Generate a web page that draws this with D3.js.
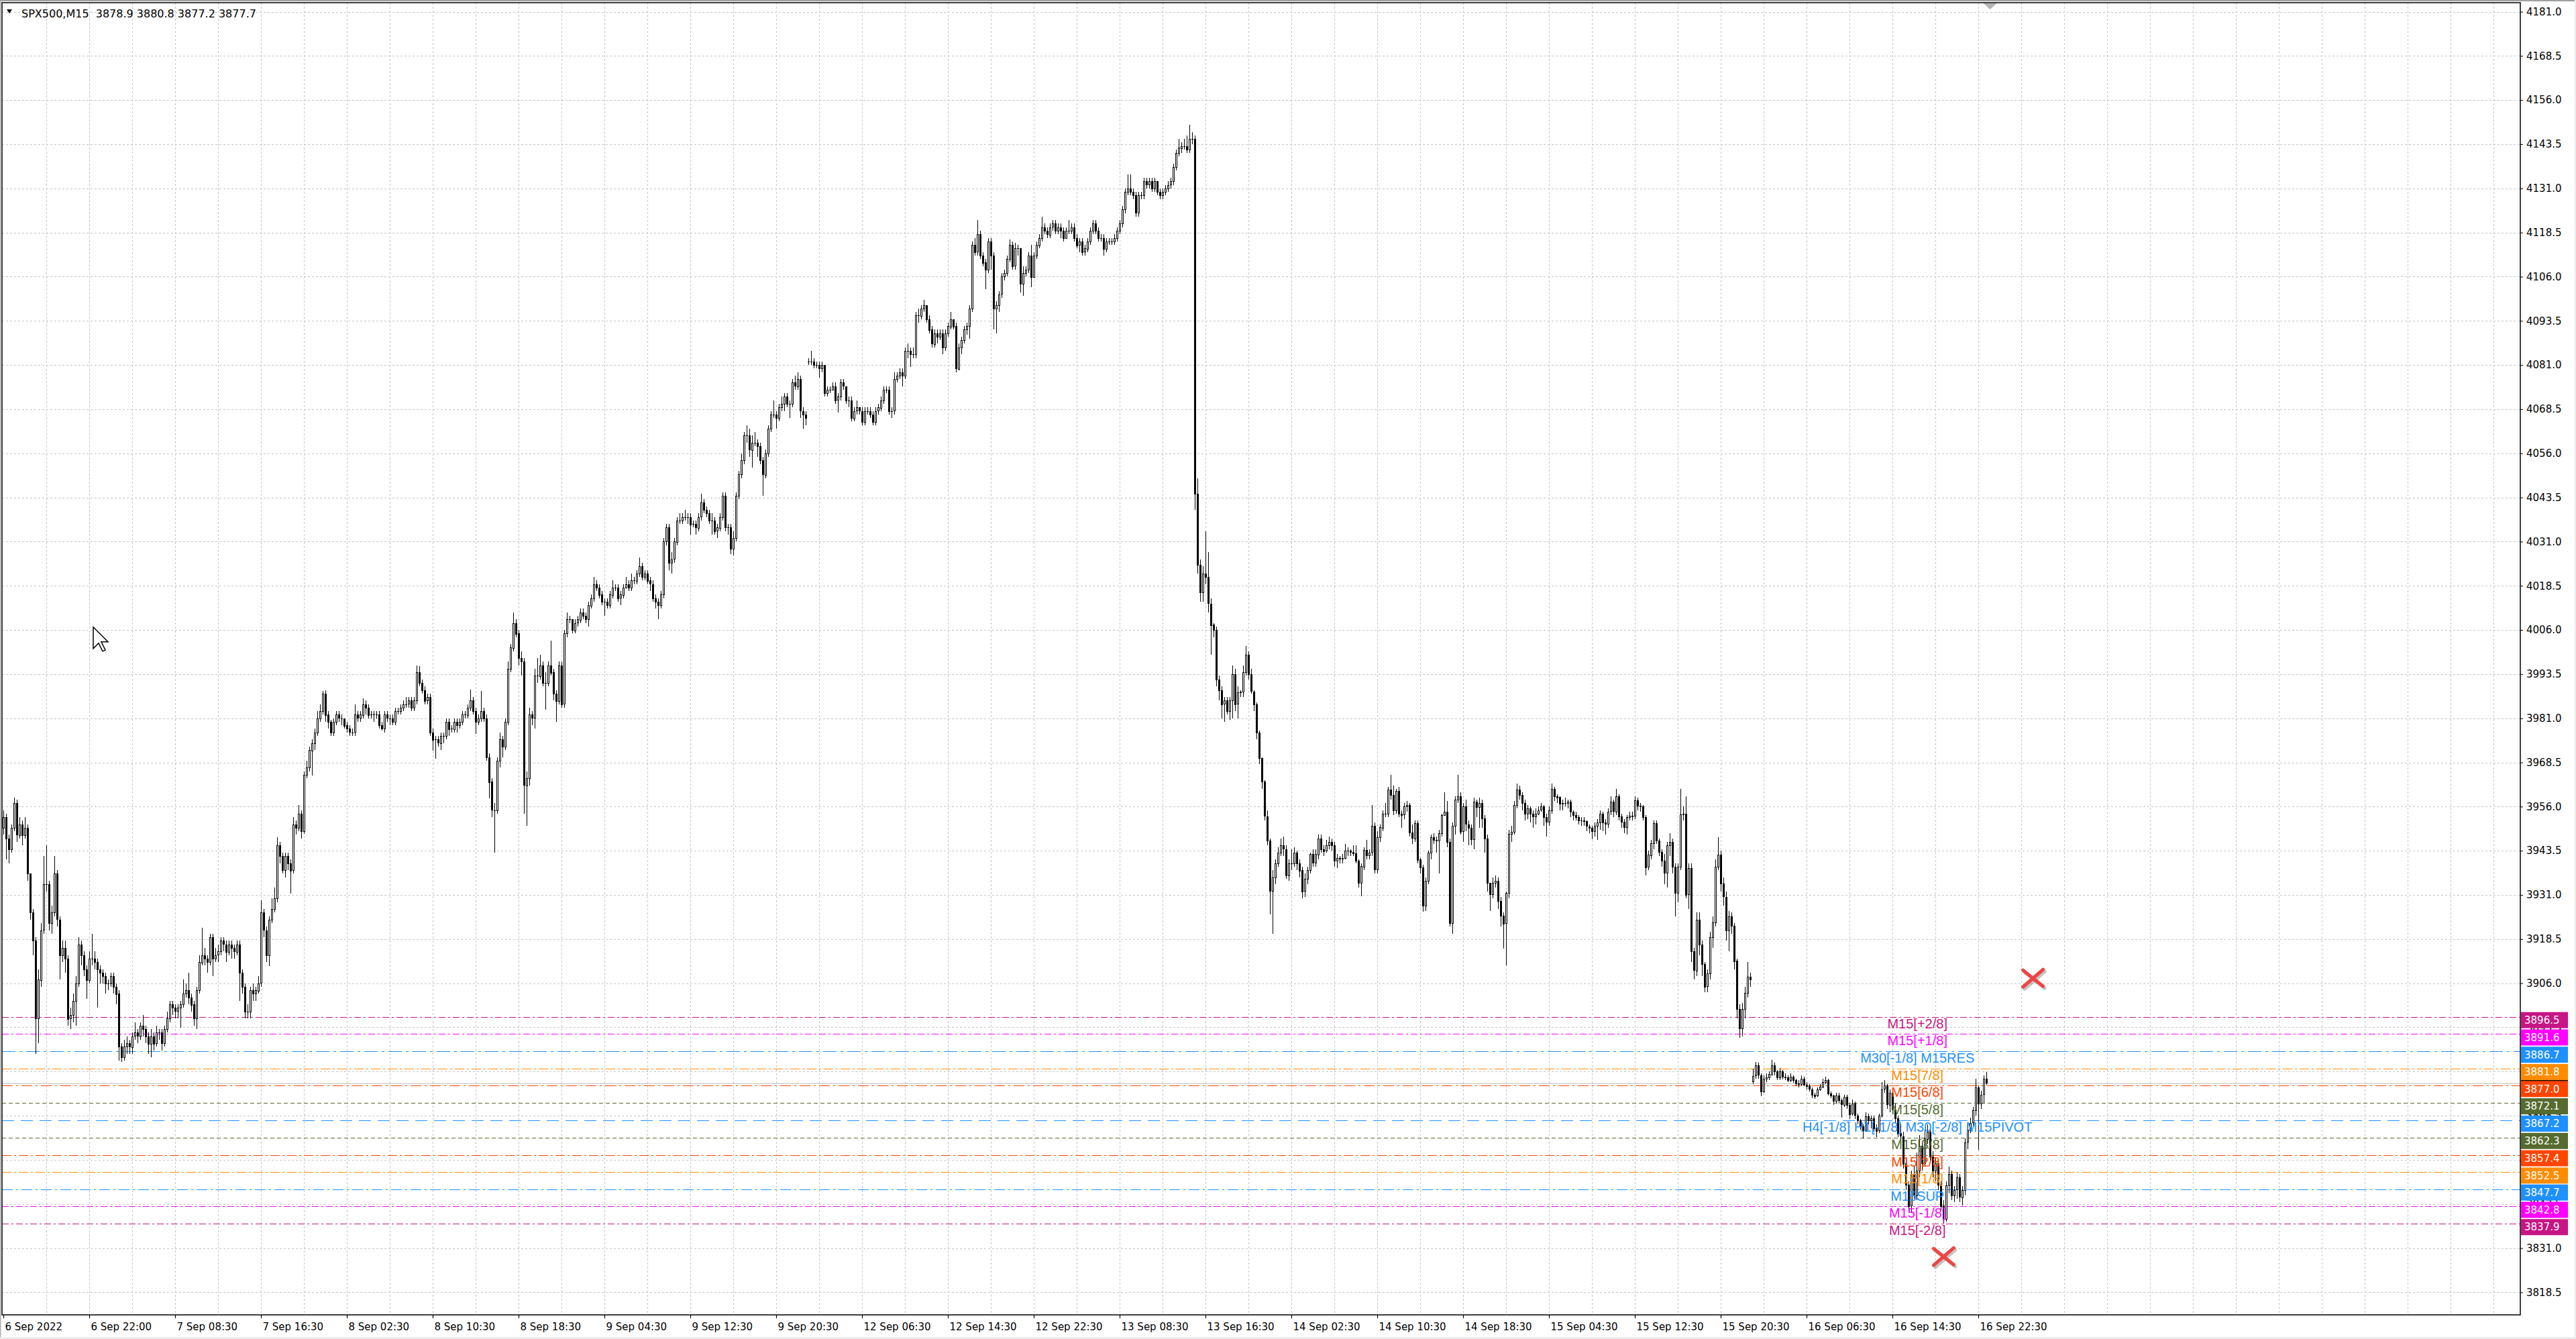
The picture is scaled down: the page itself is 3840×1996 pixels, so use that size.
<!DOCTYPE html>
<html>
<head>
<meta charset="utf-8">
<script src="https://cdn.jsdelivr.net/npm/d3@7"></script>
<style>
  body { margin: 0; background: #fff; }
  svg { display: block; }
</style>
</head>
<body>
<svg id="chart" width="3840" height="1996"></svg>
<script>
// SPX500 M15 candles, 6 Sep 2022 .. 16 Sep 2022
var closes = [
  3953,3947,3944,3950,3957,3948,3951,3948,3950,3937,
  3926,3918,3896,3907,3921,3934,3934,3923,3926,3937,
  3924,3914,3916,3913,3896,3897,3901,3906,3917,3914,
  3910,3907,3913,3913,3912,3910,3909,3908,3906,3906,
  3908,3905,3903,3888,3885,3888,3889,3888,3891,3892,
  3891,3894,3893,3891,3889,3891,3889,3892,3892,3889,
  3893,3896,3900,3899,3898,3899,3900,3903,3904,3902,
  3900,3896,3904,3912,3914,3913,3912,3919,3913,3914,
  3915,3918,3917,3915,3917,3916,3915,3917,3909,3905,
  3898,3898,3904,3903,3904,3906,3926,3921,3914,3924,
  3927,3930,3945,3942,3938,3942,3940,3938,3951,3950,
  3954,3949,3965,3967,3972,3974,3977,3981,3983,3988,
  3982,3980,3977,3980,3982,3981,3981,3979,3978,3977,
  3977,3982,3981,3982,3985,3984,3982,3982,3982,3982,
  3979,3978,3982,3981,3981,3980,3983,3983,3984,3985,
  3985,3986,3984,3986,3994,3991,3989,3986,3987,3977,
  3975,3975,3974,3976,3976,3980,3978,3978,3980,3979,
  3980,3982,3982,3984,3986,3983,3980,3981,3983,3981,
  3970,3963,3955,3955,3969,3975,3973,3980,3995,4001,
  4008,4005,3998,3997,3962,3964,3982,3981,3993,3993,
  3996,3991,3991,3996,3994,3988,3986,3996,3985,4005,
  4009,4009,4006,4008,4009,4011,4010,4009,4013,4015,
  4019,4018,4016,4014,4014,4013,4016,4018,4018,4015,
  4016,4018,4019,4018,4020,4020,4022,4024,4021,4022,
  4020,4019,4015,4014,4013,4016,4031,4035,4025,4026,
  4031,4037,4037,4038,4038,4038,4036,4036,4035,4038,
  4042,4040,4039,4037,4037,4034,4035,4038,4044,4035,
  4035,4029,4032,4044,4050,4054,4061,4061,4057,4059,
  4059,4058,4054,4050,4056,4063,4067,4067,4066,4069,
  4070,4072,4070,4070,4076,4075,4077,4068,4067,4066,
  4082,4082,4081,4081,4080,4081,4073,4074,4074,4075,
  4071,4072,4076,4075,4071,4071,4066,4068,4069,4068,
  4065,4068,4068,4067,4065,4068,4069,4071,4074,4074,
  4068,4068,4077,4078,4079,4078,4085,4085,4084,4084,
  4095,4095,4097,4098,4094,4091,4087,4090,4089,4090,
  4086,4090,4092,4094,4092,4080,4086,4088,4091,4092,
  4097,4115,4113,4118,4112,4110,4108,4116,4112,4097,
  4098,4101,4106,4107,4111,4115,4109,4114,4114,4104,
  4107,4108,4112,4106,4112,4115,4117,4120,4119,4118,
  4120,4121,4119,4120,4119,4117,4119,4119,4120,4117,
  4115,4116,4113,4114,4116,4119,4121,4119,4117,4117,
  4114,4116,4116,4116,4117,4119,4121,4125,4130,4131,
  4130,4129,4124,4129,4129,4133,4132,4133,4131,4133,
  4130,4129,4130,4131,4132,4133,4137,4141,4142.5,4143,
  4143,4142,4145,4145,4044.5,4024.4,4016.7,4022,4021,4013.5,
  4007.5,4006,3992,3989,3985,3986,3983,3986,3993.5,3985,
  3988.3,3988.5,3994,3999,3993.4,3988.6,3984.9,3977,3969.7,3963,
  3953.3,3946.4,3932.2,3936,3940,3943,3945,3944,3936.6,3940,
  3940,3943,3940,3938,3932,3935.5,3938,3942.5,3940,3942.5,
  3947,3944,3943.5,3945,3946,3945,3940.7,3941.5,3941.3,3941.5,
  3943.5,3943.5,3943.2,3942.8,3940.7,3934.4,3939.1,3943.8,3942.3,3943,
  3950.5,3938.2,3947.3,3950.1,3954,3954,3960.9,3959.3,3955,3960.5,
  3954,3953.7,3956,3956.4,3948.6,3947,3951.4,3941,3938.8,3928,
  3935,3942.9,3947.3,3946.5,3946.4,3948.5,3953.6,3954.6,3946,3923,
  3950.5,3958,3959,3949,3956,3951,3950,3946.7,3957.4,3955.8,
  3957,3952.7,3947,3934.4,3931.2,3934.4,3935,3929.3,3925.2,3923,
  3931.5,3948.3,3948.9,3956.5,3960.9,3959.3,3957,3954,3955.5,3954,
  3953.3,3954,3955,3956,3953,3951.7,3955,3961,3959,3958.7,
  3956.8,3957,3957,3957.3,3954.5,3953.6,3953,3952,3952,3951.8,
  3950.4,3950,3949,3950.5,3951.5,3954,3951.6,3951.2,3954.6,3957.3,
  3954.6,3959,3953.3,3951.7,3950.1,3953,3953.4,3953.3,3957.7,3956.2,
  3956.1,3953,3938.8,3942.3,3945.7,3951.4,3946.4,3943.2,3940.7,3937.2,
  3945,3946,3939,3931.6,3939,3953.8,3954,3931,3938.5,3915,
  3909.6,3924,3916.9,3911.4,3905,3908.7,3919,3923.2,3939,3942.4,
  3934.2,3930.5,3921,3925,3922.3,3912.3,3898.7,3893.2,3898.7,3903.2,
  3907.8,3907,3879.8,3882.7,3880,3875.4,3879,3879.3,3880.2,3882.8,
  3881,3879.2,3881,3879.5,3879.4,3878.6,3879.5,3878.6,3877.6,3877.5,
  3879,3877.3,3877,3876,3874.5,3874.2,3875.9,3876.7,3878,3878.6,
  3874.8,3874.2,3872.6,3874.2,3872.8,3871.6,3873.8,3871.6,3869,3871.9,
  3868.6,3867.2,3865.5,3864.4,3868.4,3867.2,3867.8,3865,3864.3,3868.5,
  3876,3877,3871.6,3875,3870.3,3867.8,3863.5,3862.7,3855,3849,
  3843,3852,3846,3853,3860,3855,3862,3864,3857,3853,
  3855,3849,3843,3839.3,3848.8,3852,3846,3847.5,3851,3845.5,
  3847.5,3861,3864.5,3866.5,3870,3876.5,3872,3874.5,3878.9,3877.7
];

var highs = [
  3955,3954,3948,3951,3958.5,3958,3953,3952,3953,3951,
  3937,3927,3919,3910,3923,3942,3945,3935,3928,3942,
  3938,3925,3918,3918,3914,3899,3903,3908,3919,3918,
  3915,3911,3915,3920,3915,3913,3911,3910,3909,3907,
  3909,3909,3906,3904,3889,3890,3891,3890,3892,3895,
  3893,3895,3897,3894,3892,3893,3892,3894,3893,3893,
  3894,3898,3901,3901,3900,3900,3901,3907,3906,3909,
  3903,3901,3905,3914,3921.7,3916,3914,3920,3920,3916,
  3917,3919,3919,3918,3918,3918,3917,3918,3918,3910,
  3906,3900,3905,3906,3905,3908,3929.5,3927,3922,3925,
  3930,3933,3947.4,3946,3943,3943,3943,3941,3953,3952,
  3956.5,3955,3966,3969,3973,3975,3978,3983,3985,3988.8,
  3989,3983,3980.5,3981,3983,3983,3982,3981,3980,3979,
  3978,3985,3983,3983,3986.6,3986,3985,3983,3983,3983,
  3983,3980,3983,3983,3982,3982,3984,3984,3985,3986,
  3987,3987,3987,3987,3996,3995.7,3992,3990,3988,3988,
  3978,3976,3976,3977,3977,3981,3981,3979,3981,3981,
  3981,3983,3983,3985,3989.2,3987,3984,3982,3988.8,3984,
  3982,3971,3964,3957,3970,3977,3976,3981,3997,4002,
  4011,4009,4006,4000,3998,3966,3984,3983,3995,3998,
  3999,3997,3994,3997,4003,3995,3989,3997,3997,4006,
  4011,4010,4009,4009,4010,4012,4012,4011,4014,4016,
  4021,4020,4019,4017,4015,4015,4017,4020,4019,4019,
  4017,4019,4021,4020,4022,4021,4023,4026.5,4025,4023,
  4023,4021,4020,4016,4015,4017,4032,4036,4036,4028,
  4032,4038,4039,4039,4040,4039,4039,4037,4037,4039,
  4044.5,4043,4041,4040,4039,4038,4036,4039,4045,4045,
  4036,4036,4034,4045,4051,4056,4062,4064,4063,4061,
  4062,4060,4059,4055,4057,4064,4068,4071,4068,4070,
  4072,4073,4073,4071,4077,4078,4079,4078,4069,4068,
  4083,4085,4083,4082,4082,4082,4081,4075,4075,4076,
  4076,4073,4077,4077,4075,4072,4072,4069,4071,4069,
  4069,4069,4069,4069,4068,4069,4070,4072,4075,4075,
  4075,4069,4079,4079,4080,4080,4086,4087,4086,4086,
  4096,4097,4098,4099.5,4098,4095,4092,4091,4091,4091,
  4091,4091,4093,4096,4094,4093,4087,4089,4092,4093,
  4098,4116,4117,4122,4119,4113,4111,4117,4117,4113,
  4099,4102,4107,4108,4112,4116.5,4116,4115.5,4115,4114,
  4109,4109,4113,4115,4113,4116,4118,4123,4121,4120,
  4121,4122,4122,4121,4121,4120,4120,4122,4121,4121,
  4118,4117,4117,4115,4117,4120,4122,4122,4120,4118,
  4118,4117,4117,4117,4118,4120,4122,4126,4131,4135,
  4135,4131,4130,4130,4130,4134,4134,4134,4134,4134,
  4133,4131,4131,4132,4133,4134,4138,4142,4145,4144,
  4145,4146,4149,4147,4146,4049,4026,4024,4034,4028,
  4015,4008,4007,3993,3990,3987,3987,3987,3996,3995,
  3990,3989,3996,4001.5,4000,3995,3989,3985.5,3977.5,3970,
  3963.5,3955,3947,3938,3941,3944.5,3947,3947.5,3945,3941,
  3944,3944.5,3943.5,3941,3939,3937,3939,3943,3944,3944,
  3948,3948,3945,3946.5,3947.5,3947,3946,3942.5,3942,3942.5,
  3945.5,3944.5,3944,3945,3945,3941,3940,3944.5,3946.5,3944,
  3956.4,3951.5,3949,3951,3955,3957,3961.5,3965,3962,3961,
  3961.5,3955,3957,3957.5,3957,3951,3952,3952,3941.5,3939.5,
  3936,3943.5,3948,3948.5,3947.5,3949.5,3954,3960,3957.5,3947,
  3951.5,3959,3965,3960,3957,3958,3952,3951,3958.5,3958,
  3958.5,3958,3953.5,3948,3934.5,3936,3936.5,3936,3930.5,3926,
  3932,3949.5,3950.5,3957.5,3962.6,3962,3960,3958,3956.5,3956,
  3955,3955.5,3956,3957,3956.5,3954,3956,3962.5,3961.5,3959.5,
  3959,3958,3958.5,3958,3958,3955,3954.5,3953.5,3953,3953,
  3952,3951,3950.5,3951.5,3952.5,3955,3954.5,3952.5,3955.5,3959,
  3958,3961,3959.5,3954,3952.5,3953.5,3954.5,3954.5,3959,3958.5,
  3957,3956.5,3953.5,3943.5,3946.5,3952,3952,3947,3944,3942.5,
  3946,3948.5,3947,3940,3940,3961,3956,3959,3940,3940,
  3916,3926,3926,3918,3912,3910,3920.5,3925,3941,3947.4,
  3943.5,3936,3932,3926.5,3926,3923,3913,3900,3900.5,3905,
  3912,3909,3881.8,3883.8,3883.5,3880.5,3880,3880.5,3881,3884.3,
  3883.5,3881.5,3882,3881.5,3880.5,3880,3880.5,3880,3879,3878.5,
  3880,3879.5,3878,3877.5,3876.5,3875,3876.5,3877.5,3879,3879.5,
  3879,3875.3,3874.5,3875,3875,3873.5,3874.5,3874.5,3872,3873,
  3872.5,3869,3867.5,3866,3869.5,3869,3868.5,3868.5,3866,3869,
  3878,3878.5,3877.5,3876,3875.5,3872,3868.5,3866,3864,3856,
  3850,3853,3854,3858,3863,3861,3864.5,3866,3865,3858.5,
  3856.5,3856,3850,3844.5,3850,3854,3853,3848.5,3852.5,3852,
  3848.5,3862,3866,3868,3871,3879,3877,3875.5,3880,3880.8
];

var lows = [
  3948,3941,3940,3943,3949,3946,3947,3945,3947,3935,
  3924,3914,3886,3889,3905,3920,3932,3921,3920,3925,
  3922,3907,3912,3909,3894,3893,3895,3894,3905,3911,
  3908,3901.5,3906,3911,3910,3899,3906,3906,3903,3904,
  3905,3903,3900,3884,3883.8,3884,3886,3886,3886,3890,
  3889,3890,3891,3889,3886,3885,3887,3888,3890,3887,
  3888,3892,3895,3897,3896,3896,3893.4,3899,3902,3900,
  3898,3894,3893,3903,3911,3911,3909,3911,3908,3912,
  3912,3914,3915,3912,3914,3913,3913,3914,3901,3903,
  3896,3896,3896,3901,3901,3903,3905,3919,3912,3910.8,
  3923,3926,3929,3940,3937,3936,3938,3931.3,3937,3948,
  3949,3947,3948.2,3964,3966,3964.8,3972,3976,3980,3982,
  3980,3978,3976,3976,3979,3980,3979,3978,3977,3976,
  3976,3976,3980,3980,3981,3982,3981,3981,3980,3981,
  3978,3977.5,3977,3980,3979,3979,3979,3982,3982,3983,
  3984,3984,3983,3983,3985,3990,3988,3985,3985,3976,
  3971.8,3969.6,3973,3972,3974,3975,3976,3977,3977,3977,
  3978,3979,3981,3981,3983,3982,3976.5,3979,3980,3980,
  3969,3958.4,3953,3943,3954,3967,3970,3972,3979,3994,
  4000,4004,3996,3993,3954,3950.5,3962,3979,3978,3991,
  3992,3990,3983.5,3990,3993,3986,3980,3985,3984,3984,
  4004,4008,4005,4005,4007,4008,4009,4008,4007,4012,
  4014,4017,4015,4013,4010,4012,4012,4015,4017,4014,
  4013,4015,4018,4017,4017,4019,4019,4021,4020,4020,
  4019,4017,4014,4012,4009,4012,4015,4030,4023,4022,
  4025,4030,4036,4036,4037,4036,4033,4035,4033,4034,
  4037,4039,4038,4036,4033,4033,4032,4034,4037,4034,
  4033,4027.5,4027,4031,4043,4049,4053,4059,4055,4052,
  4058,4055,4053,4044,4049,4055,4062,4066,4063,4065,
  4068,4068,4069,4066,4069,4074,4074,4066,4063,4064,
  4081,4081,4080,4080,4077.5,4079,4072,4072,4073,4074,
  4070,4067.5,4071,4074,4070,4069,4065,4065,4067,4067,
  4064,4064,4067,4066,4064,4064,4067,4068,4070,4073,
  4067,4066,4067,4076,4077,4075,4077,4083,4080.5,4083,
  4083,4093,4094,4096,4093,4090,4086,4086,4087,4088,
  4084,4085,4089,4091,4091,4079,4079.5,4084,4087,4089.5,
  4088.5,4096,4112,4112,4111,4109,4102.5,4107,4108,4091,
  4090,4096,4100,4105,4106,4110,4108,4108,4112,4101.5,
  4100.5,4106,4107,4103,4106,4111,4114,4116,4118,4117,
  4117,4119,4118,4118,4117,4116,4117,4118,4118,4116,
  4114,4113,4112,4112,4113,4115,4118,4118,4116,4116,
  4112,4113,4115,4115,4115,4116,4118,4120,4124,4129,
  4129,4128,4123,4123,4128,4128,4131,4131,4130,4130,
  4129,4128,4128,4129,4130,4131,4132,4136,4140,4141,
  4142,4141,4141,4143.5,4040,4022,4014,4014,4019,4011,
  3999,4004,3990,3986,3981,3980,3982,3980.5,3981,3983,
  3981,3987,3987,3993,3992,3988,3983,3975,3968,3961,
  3952,3945,3925.5,3920,3934,3939,3942,3942,3935.5,3935,
  3938,3939,3938,3936,3930,3930.5,3934,3937,3939,3939,
  3941,3943,3942,3943,3944,3943.5,3939,3938.5,3940,3940,
  3941,3942,3942,3942,3940,3933,3930.7,3938,3941,3941,
  3942,3937,3937,3946,3949,3953,3953,3958,3953.5,3954,
  3953,3950,3952.5,3954.5,3947.5,3945.5,3946,3940,3937,3926.3,
  3926.5,3934,3941,3945.5,3943,3937,3947.5,3953.5,3944.5,3922,
  3920,3948,3957,3948,3946,3949,3945,3945,3944,3953,
  3950,3950,3943,3932,3926.5,3930,3933,3927,3922,3915.8,
  3911,3930,3946,3948,3955.5,3958,3955,3952,3952.5,3951.5,
  3950,3951,3953.5,3954.5,3950.5,3947.5,3950.5,3954,3957.5,3957,
  3955,3955,3956,3955.5,3953,3952,3952,3951,3950.5,3950.5,
  3949,3948.5,3946.8,3947.5,3946.5,3949.5,3949,3948,3950,3953.5,
  3953,3953.5,3952,3950,3948.5,3948,3952,3952,3952.5,3955,
  3954.5,3952,3936.5,3938,3941,3944,3945.5,3942,3939,3934,
  3933,3942,3937,3925,3929,3938,3952,3930,3927,3912,
  3907,3908,3914,3908,3903.5,3903.5,3907,3916,3922,3938,
  3932,3928,3918,3915,3920,3910,3896,3890.5,3891,3896,
  3902,3905,3877.5,3879,3879,3874.1,3875,3878,3878.5,3880,
  3880,3878.5,3878.5,3878.8,3878.5,3878,3878,3877.8,3876.8,3876.5,
  3877,3876.8,3876,3875.3,3873.5,3873.3,3873.8,3875.5,3876.3,3877.5,
  3874.2,3873.5,3871.5,3872,3872,3868,3871,3870.5,3867.5,3868.5,
  3867.5,3866,3864.5,3862,3864,3866,3865,3864,3862.5,3863.5,
  3868,3875,3870.5,3869.5,3869,3866.5,3862.5,3861,3853.5,3847.5,
  3841.5,3841,3845,3844.5,3851,3853,3854,3860.5,3855.5,3851,
  3850,3847.5,3841.5,3838,3838.5,3846.5,3844.5,3844,3845,3844,
  3843,3846,3859,3863.5,3865.5,3868.5,3858.9,3870.5,3872,3877.2
];

// bars where a session opens with a gap: [bar index, open price]
var sessionOpens = [[0, 3950], [300, 4082], [652, 3878.2]];

var timeLabels = ["6 Sep 2022", "6 Sep 22:00", "7 Sep 08:30", "7 Sep 16:30", "8 Sep 02:30",
  "8 Sep 10:30", "8 Sep 18:30", "9 Sep 04:30", "9 Sep 12:30", "9 Sep 20:30",
  "12 Sep 06:30", "12 Sep 14:30", "12 Sep 22:30", "13 Sep 08:30", "13 Sep 16:30",
  "14 Sep 02:30", "14 Sep 10:30", "14 Sep 18:30", "15 Sep 04:30", "15 Sep 12:30",
  "15 Sep 20:30", "16 Sep 06:30", "16 Sep 14:30", "16 Sep 22:30"];
var barsPerLabel = 32;

var levelPrices = [3896.5, 3891.6, 3886.7, 3881.8, 3877.0, 3872.1, 3867.2,
  3862.3, 3857.4, 3852.5, 3847.7, 3842.8, 3837.9];
var levelNames = ["M15[+2/8]", "M15[+1/8]", "M30[-1/8] M15RES", "M15[7/8]", "M15[6/8]",
  "M15[5/8]", "H4[-1/8] H1[-1/8] M30[-2/8] M15PIVOT", "M15[3/8]", "M15[2/8]",
  "M15[1/8]", "M15SUP", "M15[-1/8]", "M15[-2/8]"];
var levelLabelBar = 713.3;

var symbolName = "SPX500,M15";
var lastOHLC = [3878.9, 3880.8, 3877.2, 3877.7];
var bidPrice = 3877.7;

// red cross objects: [bar, price]
var crossMarks = [[723.1, 3828.6], [756.4, 3907.4]];
var shiftMarkBar = 740.4;
var cursorAt = [33.5, 4006.8];

// styles
var levelColors = ["#c71585", "#ff00ff", "#1e90ff", "#ff8c00", "#ff4500", "#556b2f", "#1e90ff",
  "#556b2f", "#ff4500", "#ff8c00", "#1e90ff", "#ff00ff", "#c71585"];
var levelDashes = ["10,4,3,4", "10,4,3,4", "20,6,4,6", "14,4,3,4", "16,5,3,5", "6,4", "18,10",
  "6,4", "14,4,3,4", "14,4,3,4", "16,5,3,5", "10,4,3,4", "10,4,3,4"];

var W = 3840, H = 1996;
var plot = {left: 3, top: 4, right: 3757, bottom: 1960};
var axisFont = "'DejaVu Sans', Verdana, sans-serif";

var svg = d3.select("#chart");

var x = d3.scaleLinear().domain([0, 938]).range([5, 3757]);
var y = d3.scaleLinear().domain([3818.5, 4181]).range([1926.4, 17.5]);

// background and window frame
svg.append("rect").attr("width", W).attr("height", H).attr("fill", "#ffffff");
svg.append("rect").attr("x", 0).attr("y", 0).attr("width", W).attr("height", 2).attr("fill", "#a0a0a0");
svg.append("rect").attr("x", 0).attr("y", 0).attr("width", 1.5).attr("height", H).attr("fill", "#b0b0b0");
svg.append("rect").attr("x", 0).attr("y", H - 3).attr("width", W).attr("height", 3).attr("fill", "#ececec");
svg.append("rect").attr("x", W - 2).attr("y", 0).attr("width", 2).attr("height", H).attr("fill", "#ececec");

// grid
var yTicks = d3.range(3818.5, 4181.01, 12.5);
var gridBars = d3.range(16, 938, 16);
var grid = svg.append("g").attr("stroke", "#c4c4c4").attr("stroke-width", 1)
    .attr("stroke-dasharray", "3,3").attr("shape-rendering", "crispEdges");
grid.selectAll(".gh").data(yTicks).enter().append("line")
    .attr("x1", plot.left).attr("x2", plot.right)
    .attr("y1", function(d) { return Math.round(y(d)) + 0.5; })
    .attr("y2", function(d) { return Math.round(y(d)) + 0.5; });
grid.selectAll(".gv").data(gridBars).enter().append("line")
    .attr("y1", plot.top).attr("y2", plot.bottom)
    .attr("x1", function(d) { return Math.round(x(d)) + 0.5; })
    .attr("x2", function(d) { return Math.round(x(d)) + 0.5; });

// bid line
svg.append("line")
    .attr("x1", plot.left).attr("x2", plot.right)
    .attr("y1", Math.round(y(bidPrice)) + 0.5).attr("y2", Math.round(y(bidPrice)) + 0.5)
    .attr("stroke", "#c0c0c0").attr("stroke-width", 1).attr("shape-rendering", "crispEdges");

// level lines
svg.append("g").selectAll("line").data(levelPrices).enter().append("line")
    .attr("x1", plot.left).attr("x2", plot.right)
    .attr("y1", function(d) { return Math.round(y(d)) + 0.5; })
    .attr("y2", function(d) { return Math.round(y(d)) + 0.5; })
    .attr("stroke", function(d, i) { return levelColors[i]; })
    .attr("stroke-width", 1.2)
    .attr("stroke-dasharray", function(d, i) { return levelDashes[i]; });

// candles
var opens = closes.map(function(c, i) { return i > 0 ? closes[i - 1] : c; });
sessionOpens.forEach(function(s) { opens[s[0]] = s[1]; });
var bars = closes.map(function(c, i) {
  var o = opens[i];
  return {i: i, o: o, c: c, h: Math.max(highs[i], o, c), l: Math.min(lows[i], o, c)};
});

var candles = svg.append("g").attr("shape-rendering", "crispEdges");
candles.selectAll(".wick").data(bars).enter().append("line")
    .attr("x1", function(d) { return Math.round(x(d.i)) + 0.5; })
    .attr("x2", function(d) { return Math.round(x(d.i)) + 0.5; })
    .attr("y1", function(d) { return y(d.h); })
    .attr("y2", function(d) { return y(d.l); })
    .attr("stroke", "#000").attr("stroke-width", 1);
candles.selectAll(".body").data(bars).enter().append("rect")
    .attr("x", function(d) { return Math.round(x(d.i)) - 0.5; })
    .attr("y", function(d) { return Math.round(y(Math.max(d.o, d.c))) + 0.5; })
    .attr("width", 2)
    .attr("height", function(d) { return Math.max(0.01, Math.round(Math.abs(y(d.o) - y(d.c)))); })
    .attr("fill", function(d) { return d.c >= d.o ? "#ffffff" : "#000000"; })
    .attr("stroke", "#000").attr("stroke-width", 1);

// level texts
svg.append("g").selectAll("text").data(levelPrices).enter().append("text")
    .attr("x", x(levelLabelBar))
    .attr("y", function(d) { return y(d) + 17; })
    .attr("text-anchor", "middle")
    .attr("font-family", "'Liberation Sans', Arial, sans-serif")
    .attr("font-size", 20)
    .attr("fill", function(d, i) { return levelColors[i]; })
    .text(function(d, i) { return levelNames[i]; });

// red crosses
var cross = svg.append("g");
crossMarks.forEach(function(m) {
  var cx = x(m[0]), cy = y(m[1]);
  [[2.5, 3, "rgba(90,90,90,0.35)"], [0, 0, "#ee4444"]].forEach(function(s) {
    cross.append("line").attr("x1", cx - 15 + s[0]).attr("y1", cy - 12 + s[1])
        .attr("x2", cx + 15 + s[0]).attr("y2", cy + 12 + s[1]);
    cross.append("line").attr("x1", cx - 15 + s[0]).attr("y1", cy + 13 + s[1])
        .attr("x2", cx + 15 + s[0]).attr("y2", cy - 13 + s[1]);
    cross.selectAll("line").filter(function() { return !this.getAttribute("stroke"); })
        .attr("stroke", s[2]).attr("stroke-width", 5).attr("stroke-linecap", "round");
  });
});

// mouse cursor
var cpx = x(cursorAt[0]), cpy = y(cursorAt[1]);
svg.append("path")
    .attr("d", "M0,0 L0,32 L8,24 L14,36 L18,34 L12,22 L22,22 Z")
    .attr("transform", "translate(" + cpx + "," + cpy + ")")
    .attr("fill", "#ffffff").attr("stroke", "#000").attr("stroke-width", 1.5)
    .attr("stroke-linejoin", "miter");

// plot frame
svg.append("rect")
    .attr("x", plot.left).attr("y", plot.top)
    .attr("width", plot.right - plot.left).attr("height", plot.bottom - plot.top)
    .attr("fill", "none").attr("stroke", "#000").attr("stroke-width", 1.5);

// chart shift marker
var sx = x(shiftMarkBar);
svg.append("path")
    .attr("d", "M" + (sx - 10) + ",5 L" + (sx + 10) + ",5 L" + sx + ",14 Z")
    .attr("fill", "#b4b4b4");

// header
svg.append("path").attr("d", "M10,14 L18,14 L14,20 Z").attr("fill", "#000");
svg.append("text")
    .attr("x", 32).attr("y", 26)
    .attr("font-family", axisFont).attr("font-size", 16)
    .attr("fill", "#000")
    .style("white-space", "pre")
    .text(symbolName + "  " + lastOHLC.map(function(v) { return v.toFixed(1); }).join(" "));

// x axis
var xAxis = d3.axisBottom(x)
    .tickValues(timeLabels.map(function(t, k) { return k * barsPerLabel; }))
    .tickFormat(function(d, k) { return timeLabels[k]; })
    .tickSize(5);
var gx = svg.append("g").attr("transform", "translate(0," + plot.bottom + ")").call(xAxis);
gx.select(".domain").remove();
gx.attr("font-family", axisFont).attr("font-size", 15);
gx.selectAll(".tick line").attr("stroke", "#000").attr("stroke-width", 1.2);
gx.selectAll(".tick text").attr("text-anchor", "start").attr("x", 2).attr("y", 12).attr("fill", "#000");

// y axis
var yAxis = d3.axisRight(y).tickValues(yTicks).tickFormat(d3.format(".1f")).tickSize(4);
var gy = svg.append("g").attr("transform", "translate(" + plot.right + ",0)").call(yAxis);
gy.select(".domain").remove();
gy.attr("font-family", axisFont).attr("font-size", 15);
gy.selectAll(".tick line").attr("stroke", "#000");
gy.selectAll(".tick text").attr("x", 9).attr("fill", "#000");

// price tags on the axis: the bid tag sits under the level tags and stays hidden
var tags = svg.append("g").attr("font-family", axisFont).attr("font-size", 15);
function priceTag(price, color, withText) {
  var yy = y(price);
  tags.append("rect").attr("x", plot.right + 1).attr("y", yy - 7)
      .attr("width", 70).attr("height", 24).attr("fill", color);
  if (withText) {
    tags.append("text").attr("x", plot.right + 6).attr("y", yy + 5).attr("dy", "0.35em")
        .attr("fill", "#fff").text(price.toFixed(1));
  }
}
priceTag(bidPrice, "#000000", false);
levelPrices.forEach(function(p, i) { priceTag(p, levelColors[i], true); });
</script>
</body>
</html>
